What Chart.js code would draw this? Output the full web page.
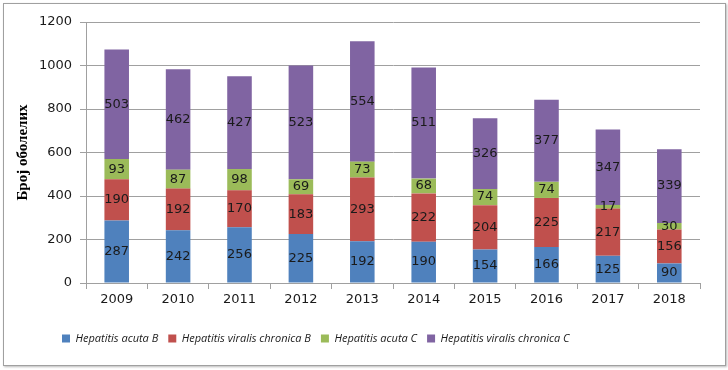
<!DOCTYPE html>
<html>
<head>
<meta charset="utf-8">
<script src="https://cdn.jsdelivr.net/npm/chart.js@4"></script>
<style>
    body { margin: 0; background: #fff; }
    #frame { position: absolute; left: 3px; top: 3px; width: 721px; height: 361px; border: 1px solid #a0a0a0; box-shadow: 1px 1px 2px #bbb; }
    #wrap { position: absolute; left: 0; top: 0; width: 728px; height: 370px; }
</style>
</head>
<body>
<div id="frame"></div>
<div id="wrap"><canvas id="chart" width="728" height="370"></canvas></div>
<script>
const years = ['2009', '2010', '2011', '2012', '2013', '2014', '2015', '2016', '2017', '2018'];
const acutaB = [287, 242, 256, 225, 192, 190, 154, 166, 125, 90];
const chronicaB = [190, 192, 170, 183, 293, 222, 204, 225, 217, 156];
const acutaC = [93, 87, 98, 69, 73, 68, 74, 74, 17, 30];
const chronicaC = [503, 462, 427, 523, 554, 511, 326, 377, 347, 339];
const yTicks = [0, 200, 400, 600, 800, 1000, 1200];

// values written in the middle of each segment
const segmentLabels = {
    id: 'segmentLabels',
    afterDatasetsDraw(chart) {
        let ctx = chart.ctx;
        ctx.save();
        ctx.font = '13px "DejaVu Sans"';
        ctx.fillStyle = '#1a1a1a';
        ctx.textAlign = 'center';
        ctx.textBaseline = 'middle';
        chart.data.datasets.forEach(function(ds, i) {
            let meta = chart.getDatasetMeta(i);
            meta.data.forEach(function(bar, j) {
                let y = (bar.y + bar.base) / 2;
                ctx.fillText(ds.data[j], bar.x, y);
            });
        });
        ctx.restore();
    }
};

// the legend in the original sits left of centre
const legendShift = {
    id: 'legendShift',
    beforeDraw(chart) {
        chart.legend.left = 52;
    }
};

function series(label, data, color) {
    return {
        label: label,
        data: data,
        backgroundColor: color,
        borderWidth: 0,
        barPercentage: 0.8,
        categoryPercentage: 0.5
    };
}

new Chart(document.getElementById('chart'), {
    type: 'bar',
    data: {
        labels: years,
        datasets: [
            series('Hepatitis acuta B', acutaB, '#4f81bd'),
            series('Hepatitis viralis chronica B', chronicaB, '#c0504d'),
            series('Hepatitis acuta C', acutaC, '#9bbb59'),
            series('Hepatitis viralis chronica C', chronicaC, '#8064a2')
        ]
    },
    options: {
        responsive: false,
        animation: false,
        layout: { padding: { left: 2, right: 28, top: 22, bottom: 16 } },
        plugins: {
            tooltip: { enabled: false },
            legend: {
                position: 'bottom',
                align: 'start',
                labels: {
                    boxWidth: 8,
                    boxHeight: 8,
                    padding: 10,
                    color: '#1a1a1a',
                    font: { family: 'Open Sans', style: 'italic', size: 11 }
                }
            }
        },
        scales: {
            x: {
                stacked: true,
                afterFit: s => { s.height = 40; },
                grid: { offset: true, drawOnChartArea: false, drawTicks: true, tickLength: 6, color: '#a0a0a0' },
                border: { color: '#a0a0a0' },
                ticks: { color: '#1a1a1a', padding: 3, font: { family: 'DejaVu Sans', size: 13 } }
            },
            y: {
                stacked: true,
                min: 0,
                max: 1200,
                afterFit: s => { s.width = 84; },
                afterBuildTicks: s => { s.ticks = yTicks.map(v => ({ value: v })); },
                grid: { color: '#a0a0a0', tickLength: 6 },
                border: { color: '#a0a0a0' },
                ticks: {
                    color: '#1a1a1a',
                    padding: 8,
                    font: { family: 'DejaVu Sans', size: 13 },
                    callback: v => String(v)
                },
                title: {
                    display: true,
                    text: 'Број оболелих',
                    color: '#000',
                    padding: { top: 12, bottom: 0 },
                    font: { family: 'Liberation Serif', weight: 'bold', size: 15 }
                }
            }
        }
    },
    plugins: [segmentLabels, legendShift]
});
</script>
</body>
</html>
